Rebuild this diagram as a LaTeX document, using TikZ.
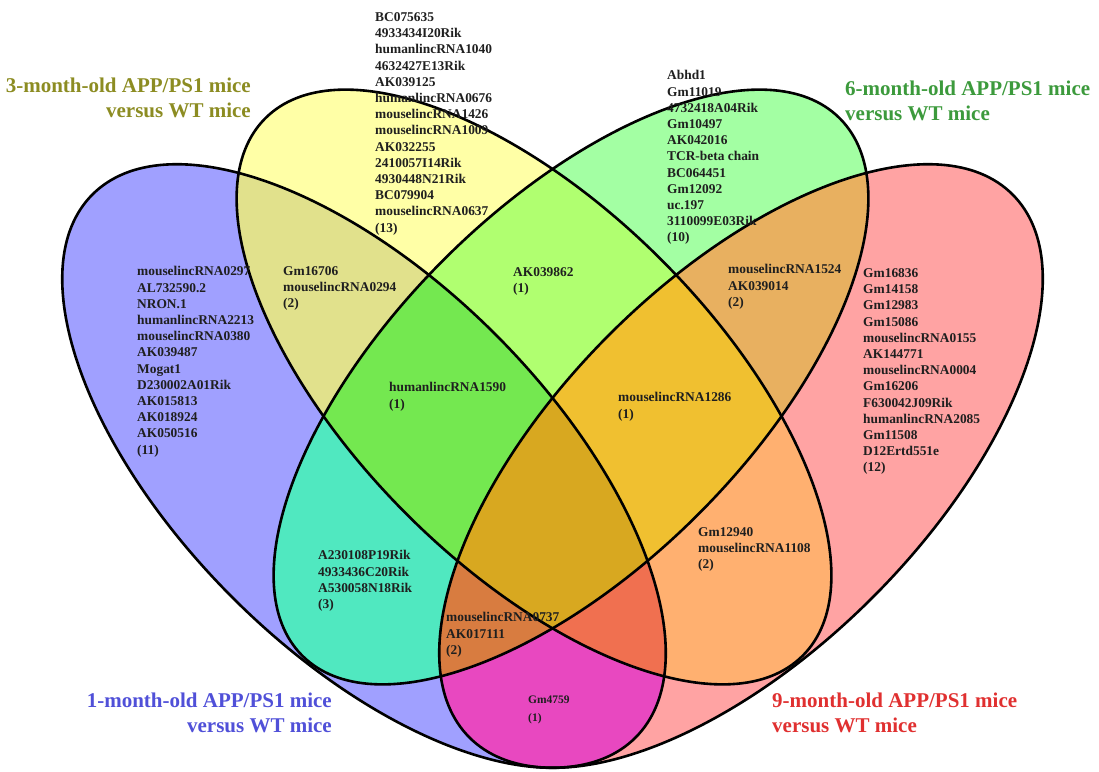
\documentclass[tikz,border=0pt]{standalone}
\usepackage{fontspec}
\setmainfont{Liberation Serif}
\definecolor{cA}{HTML}{A0A0FF}\definecolor{cB}{HTML}{FFFFA6}\definecolor{cC}{HTML}{A3FFA3}\definecolor{cD}{HTML}{FFA3A3}
\definecolor{cAB}{HTML}{E1E18C}\definecolor{cAC}{HTML}{50E8C0}\definecolor{cAD}{HTML}{E848C0}
\definecolor{cBC}{HTML}{B0FF70}\definecolor{cBD}{HTML}{FFB070}\definecolor{cCD}{HTML}{E8B060}
\definecolor{cABC}{HTML}{74E850}\definecolor{cABD}{HTML}{F07050}\definecolor{cACD}{HTML}{D87C40}\definecolor{cBCD}{HTML}{F0C030}
\definecolor{cABCD}{HTML}{D8A820}
\definecolor{tA}{HTML}{5050D8}\definecolor{tB}{HTML}{8C8C22}\definecolor{tC}{HTML}{3C9A3C}\definecolor{tD}{HTML}{E03030}
\tikzset{
  venn/.style={line width=2.6pt,draw=black},
  setA/.style={shift={(364,466)},rotate=-45,x radius=384,y radius=186},
  setB/.style={shift={(534,387)},rotate=-45,x radius=380,y radius=180},
  setC/.style={shift={(571,387)},rotate=45,x radius=380,y radius=180},
  setD/.style={shift={(741,466)},rotate=45,x radius=384,y radius=186},
  genes/.style={anchor=north west,align=left,inner sep=0pt,text=black!88,font=\bfseries\fontsize{13.4}{16.2}\selectfont},
  grp/.style={inner sep=0pt,font=\bfseries\fontsize{21}{25}\selectfont}
}
\newcommand{\vclip}[1]{\clip[#1] (0,0) ellipse [];}
\newcommand{\vpaint}[2]{\fill[#2,#1] (0,0) ellipse [];}
\begin{document}
\begin{tikzpicture}[x=1pt,y=-1pt]
\useasboundingbox (0,0) rectangle (1099,771);
% regions, painted from single sets up to all four
\vpaint{setA}{cA}\vpaint{setB}{cB}\vpaint{setC}{cC}\vpaint{setD}{cD}
\begin{scope}\vclip{setA}\vpaint{setB}{cAB}\end{scope}
\begin{scope}\vclip{setA}\vpaint{setC}{cAC}\end{scope}
\begin{scope}\vclip{setA}\vpaint{setD}{cAD}\end{scope}
\begin{scope}\vclip{setB}\vpaint{setC}{cBC}\end{scope}
\begin{scope}\vclip{setB}\vpaint{setD}{cBD}\end{scope}
\begin{scope}\vclip{setC}\vpaint{setD}{cCD}\end{scope}
\begin{scope}\vclip{setA}\vclip{setB}\vpaint{setC}{cABC}\end{scope}
\begin{scope}\vclip{setA}\vclip{setB}\vpaint{setD}{cABD}\end{scope}
\begin{scope}\vclip{setA}\vclip{setC}\vpaint{setD}{cACD}\end{scope}
\begin{scope}\vclip{setB}\vclip{setC}\vpaint{setD}{cBCD}\end{scope}
\begin{scope}\vclip{setA}\vclip{setB}\vclip{setC}\vpaint{setD}{cABCD}\end{scope}
\foreach \s in {setA,setB,setC,setD} \draw[venn,\s] (0,0) ellipse [];
% gene lists
\foreach \nm/\x/\y/\txt in {
  nB/375/12.4/{BC075635\\4933434I20Rik\\humanlincRNA1040\\4632427E13Rik\\AK039125\\humanlincRNA0676\\mouselincRNA1426\\mouselincRNA1009\\AK032255\\2410057I14Rik\\4930448N21Rik\\BC079904\\mouselincRNA0637\\(13)},
  nC/667/70.4/{Abhd1\\Gm11019\\4732418A04Rik\\Gm10497\\AK042016\\TCR-beta chain\\BC064451\\Gm12092\\uc.197\\3110099E03Rik\\(10)},
  nA/137/266.4/{mouselincRNA0297\\AL732590.2\\NRON.1\\humanlincRNA2213\\mouselincRNA0380\\AK039487\\Mogat1\\D230002A01Rik\\AK015813\\AK018924\\AK050516\\(11)},
  nD/863/268.4/{Gm16836\\Gm14158\\Gm12983\\Gm15086\\mouselincRNA0155\\AK144771\\mouselincRNA0004\\Gm16206\\F630042J09Rik\\humanlincRNA2085\\Gm11508\\D12Ertd551e\\(12)},
  nAB/283/266.4/{Gm16706\\mouselincRNA0294\\(2)},
  nBC/513/267.4/{AK039862\\(1)},
  nCD/728/264.4/{mouselincRNA1524\\AK039014\\(2)},
  nABC/389/382.4/{humanlincRNA1590\\(1)},
  nBCD/618/392.4/{mouselincRNA1286\\(1)},
  nAC/318/550.4/{A230108P19Rik\\4933436C20Rik\\A530058N18Rik\\(3)},
  nACD/446/612.4/{mouselincRNA0737\\AK017111\\(2)},
  nBD/698/527.4/{Gm12940\\mouselincRNA1108\\(2)}}
  \node[genes] (\nm) at (\x,\y) {\txt};
\node[genes,font=\bfseries\fontsize{11.5}{18}\selectfont] (nAD) at (528,696) {Gm4759\\(1)};
% set titles
\node[grp,tB,anchor=north east,align=right] (ttlB) at (251,77.7) {3-month-old APP/PS1 mice\\versus WT mice};
\node[grp,tC,anchor=north west,align=left] (ttlC) at (845,80.7) {6-month-old APP/PS1 mice\\versus WT mice};
\node[grp,tA,anchor=north east,align=right] (ttlA) at (332,692.7) {1-month-old APP/PS1 mice\\versus WT mice};
\node[grp,tD,anchor=north west,align=left] (ttlD) at (772,692.7) {9-month-old APP/PS1 mice\\versus WT mice};
\end{tikzpicture}
\end{document}
